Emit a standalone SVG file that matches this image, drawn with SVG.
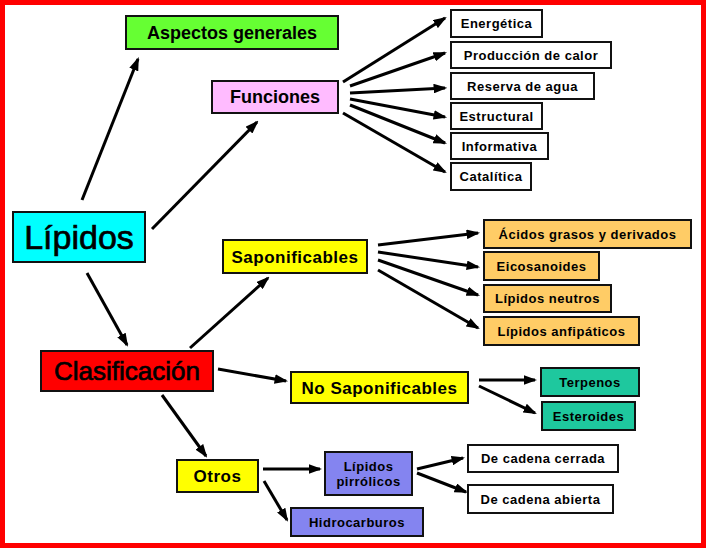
<svg xmlns="http://www.w3.org/2000/svg" width="708" height="550" viewBox="0 0 708 550">
<defs>
<marker id="ah" markerUnits="strokeWidth" markerWidth="4.5" markerHeight="3.2" refX="3.8" refY="1.6" orient="auto">
<path d="M0,0 L4.5,1.6 L0,3.2 z" fill="#000"/>
</marker>
<style>
.b{stroke:#111;stroke-width:2}
.t{font-family:"Liberation Sans",Arial,sans-serif;font-weight:bold;fill:#000;text-anchor:middle}
.s{font-size:13px;letter-spacing:0.5px}
.m{font-size:17px;letter-spacing:0.5px}
.l{font-family:"Liberation Sans",Arial,sans-serif;fill:#000;stroke:#000;stroke-width:0.7;text-anchor:middle}
.c line{stroke:#000;stroke-width:3;marker-end:url(#ah)}
</style>
</defs>
<rect x="0" y="0" width="708" height="550" fill="#fff"/>
<rect x="2.5" y="2.5" width="701" height="543" fill="none" stroke="#ff0000" stroke-width="5"/>

<g class="c">
<line x1="82" y1="200" x2="138" y2="59"/>
<line x1="152" y1="229" x2="257" y2="122"/>
<line x1="87" y1="273" x2="127" y2="345"/>
<line x1="343" y1="82" x2="445" y2="18"/>
<line x1="350" y1="86" x2="445" y2="53"/>
<line x1="350" y1="93" x2="445" y2="88"/>
<line x1="350" y1="99" x2="445" y2="117"/>
<line x1="350" y1="105" x2="445" y2="143"/>
<line x1="343" y1="113" x2="445" y2="172"/>
<line x1="190" y1="348" x2="268" y2="278"/>
<line x1="218" y1="369" x2="286" y2="381"/>
<line x1="162" y1="395" x2="206" y2="456"/>
<line x1="378" y1="245" x2="478" y2="233"/>
<line x1="378" y1="252" x2="478" y2="267"/>
<line x1="378" y1="260" x2="478" y2="295"/>
<line x1="378" y1="270" x2="478" y2="328"/>
<line x1="479" y1="380" x2="535" y2="380"/>
<line x1="479" y1="386" x2="535" y2="413"/>
<line x1="263" y1="469" x2="320" y2="469"/>
<line x1="264" y1="481" x2="287" y2="520"/>
<line x1="417" y1="469" x2="463" y2="458"/>
<line x1="417" y1="473" x2="466" y2="492"/>
</g>

<g id="lipidos"><rect class="b" x="13" y="212" width="132" height="50" fill="#00ffff"/><text class="l" x="79" y="249" font-size="34">Lípidos</text></g>
<g id="aspectos"><rect class="b" x="126" y="16" width="212" height="33" fill="#66ff33"/><text class="t" x="232" y="39" font-size="18">Aspectos generales</text></g>
<g id="funciones"><rect class="b" x="212" y="81" width="126" height="32" fill="#ffbbff"/><text class="t" x="275" y="103" font-size="18">Funciones</text></g>
<g id="energetica"><rect class="b" x="451" y="10" width="91" height="27" fill="#fff"/><text class="t s" x="496.5" y="28">Energética</text></g>
<g id="produccion"><rect class="b" x="451" y="42" width="160" height="26" fill="#fff"/><text class="t s" x="531" y="59.5">Producción de calor</text></g>
<g id="reserva"><rect class="b" x="451" y="73" width="143" height="26" fill="#fff"/><text class="t s" x="522.5" y="90.5">Reserva de agua</text></g>
<g id="estructural"><rect class="b" x="451" y="103" width="91" height="26" fill="#fff"/><text class="t s" x="496.5" y="120.5">Estructural</text></g>
<g id="informativa"><rect class="b" x="451" y="133" width="97" height="26" fill="#fff"/><text class="t s" x="499.5" y="150.5">Informativa</text></g>
<g id="catalitica"><rect class="b" x="451" y="163" width="80" height="27" fill="#fff"/><text class="t s" x="491" y="181">Catalítica</text></g>
<g id="clasificacion"><rect class="b" x="41" y="351" width="172" height="40" fill="#ff0000"/><text class="l" x="127" y="380" font-size="26" stroke-width="0.5">Clasificación</text></g>
<g id="saponificables"><rect class="b" x="223" y="240" width="144" height="33" fill="#ffff00"/><text class="t m" x="295" y="262.5">Saponificables</text></g>
<g id="nosaponificables"><rect class="b" x="291" y="372" width="177" height="31" fill="#ffff00"/><text class="t m" x="379.5" y="393.5">No Saponificables</text></g>
<g id="acidos"><rect class="b" x="484" y="220" width="207" height="28" fill="#ffcc66"/><text class="t s" x="587.5" y="238.5">Ácidos grasos y derivados</text></g>
<g id="eicosanoides"><rect class="b" x="484" y="252" width="115" height="28" fill="#ffcc66"/><text class="t s" x="541.5" y="270.5">Eicosanoides</text></g>
<g id="neutros"><rect class="b" x="484" y="285" width="127" height="27" fill="#ffcc66"/><text class="t s" x="547.5" y="303">Lípidos neutros</text></g>
<g id="anfipaticos"><rect class="b" x="484" y="317" width="155" height="28" fill="#ffcc66"/><text class="t s" x="561.5" y="335.5">Lípidos anfipáticos</text></g>
<g id="terpenos"><rect class="b" x="541" y="368" width="98" height="28" fill="#1ec89e"/><text class="t s" x="590" y="386.5">Terpenos</text></g>
<g id="esteroides"><rect class="b" x="542" y="402" width="93" height="28" fill="#1ec89e"/><text class="t s" x="588.5" y="420.5">Esteroides</text></g>
<g id="otros"><rect class="b" x="177" y="460" width="81" height="32" fill="#ffff00"/><text class="t m" x="217.5" y="482">Otros</text></g>
<g id="pirrolicos"><rect class="b" x="325" y="452" width="87" height="43" fill="#8484f0"/><text class="t s" x="368.5" y="471">Lípidos</text><text class="t s" x="368.5" y="486">pirrólicos</text></g>
<g id="hidrocarburos"><rect class="b" x="291" y="508" width="132" height="28" fill="#8484f0"/><text class="t s" x="357" y="526.5">Hidrocarburos</text></g>
<g id="cerrada"><rect class="b" x="468" y="445" width="150" height="27" fill="#fff"/><text class="t s" x="543" y="463">De cadena cerrada</text></g>
<g id="abierta"><rect class="b" x="468" y="485" width="145" height="28" fill="#fff"/><text class="t s" x="540.5" y="503.5">De cadena abierta</text></g>
</svg>
